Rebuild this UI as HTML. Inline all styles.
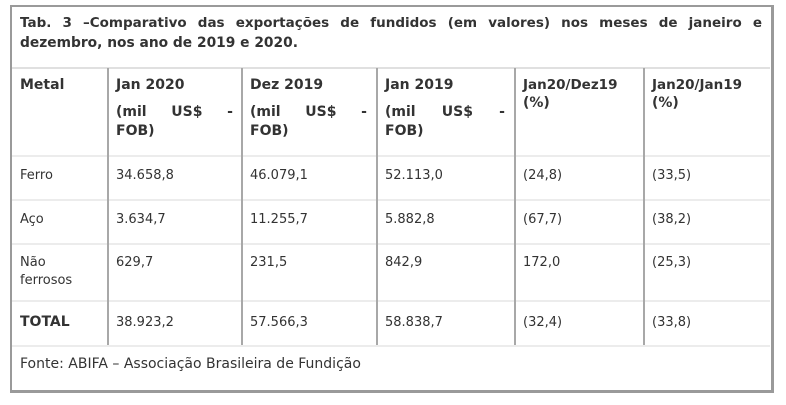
<!DOCTYPE html>
<html><head><meta charset="utf-8"><style>
body{margin:0;width:786px;height:405px;background:#fff;position:relative;font-family:"DejaVu Sans","Liberation Sans",sans-serif;color:#333;font-size:13px;overflow:hidden}
.box{position:absolute;left:10px;top:5px;width:759px;height:383px;border:2px solid #9a9a9a;border-right-width:3px;border-bottom-width:3px}
.v{position:absolute;width:2px;background:#a8a8a8;top:68px;height:277px}
.h{position:absolute;left:12px;width:758px;height:2px;background:#ececec}
.t{position:absolute;white-space:nowrap}
.b{font-weight:bold;font-size:14px}
</style></head><body>
<div class="box"></div>
<div class="h" style="top:67px;background:#e0e0e0"></div>
<div class="h" style="top:155px"></div>
<div class="h" style="top:199px"></div>
<div class="h" style="top:243px"></div>
<div class="h" style="top:300px"></div>
<div class="h" style="top:345px"></div>
<div class="v" style="left:107px"></div>
<div class="v" style="left:241px"></div>
<div class="v" style="left:376px"></div>
<div class="v" style="left:514px"></div>
<div class="v" style="left:643px"></div>
<div class="t b" style="left:20px;top:15px;width:742px;text-align:justify;text-align-last:justify;font-size:13.5px">Tab. 3 –Comparativo das exportações de fundidos (em valores) nos meses de janeiro e</div>
<div class="t b" style="left:20px;top:35px;font-size:13.8px">dezembro, nos ano de 2019 e 2020.</div>
<div class="t b" style="left:20px;top:77px">Metal</div>
<div class="t b" style="left:116px;top:77px">Jan 2020</div>
<div class="t b" style="left:116px;top:104px;width:117px;display:flex;justify-content:space-between"><span>(mil</span><span>US$</span><span>-</span></div>
<div class="t b" style="left:116px;top:123px">FOB)</div>
<div class="t b" style="left:250px;top:77px">Dez 2019</div>
<div class="t b" style="left:250px;top:104px;width:117px;display:flex;justify-content:space-between"><span>(mil</span><span>US$</span><span>-</span></div>
<div class="t b" style="left:250px;top:123px">FOB)</div>
<div class="t b" style="left:385px;top:77px">Jan 2019</div>
<div class="t b" style="left:385px;top:104px;width:120px;display:flex;justify-content:space-between"><span>(mil</span><span>US$</span><span>-</span></div>
<div class="t b" style="left:385px;top:123px">FOB)</div>
<div class="t b" style="left:523px;top:77px;font-size:13.5px">Jan20/Dez19</div>
<div class="t b" style="left:523px;top:95px">(%)</div>
<div class="t b" style="left:652px;top:77px;font-size:13.5px">Jan20/Jan19</div>
<div class="t b" style="left:652px;top:95px">(%)</div>
<div class="t" style="left:20px;top:168px">Ferro</div>
<div class="t" style="left:116px;top:168px">34.658,8</div>
<div class="t" style="left:250px;top:168px">46.079,1</div>
<div class="t" style="left:385px;top:168px">52.113,0</div>
<div class="t" style="left:523px;top:168px">(24,8)</div>
<div class="t" style="left:652px;top:168px">(33,5)</div>
<div class="t" style="left:20px;top:212px">Aço</div>
<div class="t" style="left:116px;top:212px">3.634,7</div>
<div class="t" style="left:250px;top:212px">11.255,7</div>
<div class="t" style="left:385px;top:212px">5.882,8</div>
<div class="t" style="left:523px;top:212px">(67,7)</div>
<div class="t" style="left:652px;top:212px">(38,2)</div>
<div class="t" style="left:20px;top:255px">Não</div>
<div class="t" style="left:20px;top:273px">ferrosos</div>
<div class="t" style="left:116px;top:255px">629,7</div>
<div class="t" style="left:250px;top:255px">231,5</div>
<div class="t" style="left:385px;top:255px">842,9</div>
<div class="t" style="left:523px;top:255px">172,0</div>
<div class="t" style="left:652px;top:255px">(25,3)</div>
<div class="t b" style="left:20px;top:314px">TOTAL</div>
<div class="t" style="left:116px;top:315px">38.923,2</div>
<div class="t" style="left:250px;top:315px">57.566,3</div>
<div class="t" style="left:385px;top:315px">58.838,7</div>
<div class="t" style="left:523px;top:315px">(32,4)</div>
<div class="t" style="left:652px;top:315px">(33,8)</div>
<div class="t" style="left:20px;top:356px;font-size:14px">Fonte: ABIFA – Associação Brasileira de Fundição</div>
</body></html>
